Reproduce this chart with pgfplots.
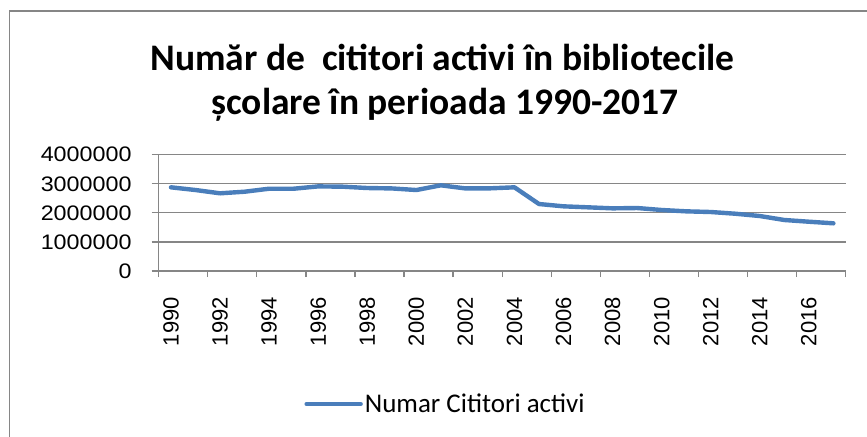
\documentclass[border=0pt]{standalone}
\usepackage{pgfplots}
\pgfplotsset{compat=1.18}
\usepackage{fontspec}
\setmainfont{Carlito}
\newfontfamily\ticksfont{Liberation Sans}
\newfontfamily\yticksfont[FakeStretch=1.11]{Liberation Sans}
\definecolor{excelblue}{HTML}{4A7EBB}
\definecolor{gridgray}{HTML}{868686}
\pgfplotstableread{
year value
1990 2878000
1991 2785000
1992 2672000
1993 2727000
1994 2830000
1995 2830000
1996 2910000
1997 2900000
1998 2854000
1999 2840000
2000 2785000
2001 2947000
2002 2840000
2003 2843000
2004 2878000
2005 2304000
2006 2224000
2007 2190000
2008 2155000
2009 2166000
2010 2098000
2011 2052000
2012 2029000
2013 1970000
2014 1891000
2015 1754000
2016 1695000
2017 1640000
}\datatable
\begin{document}
\begin{tikzpicture}
\useasboundingbox (0,0) rectangle (867bp,437bp);
\draw[gridgray, line width=1.5bp] (9.5bp,0) -- (9.5bp,426bp) -- (867bp,426bp);
\node[anchor=base, inner sep=0pt, font=\fontsize{37.5bp}{44bp}\selectfont\bfseries] at (442.5bp,366bp) {Număr de\ \ cititori activi în bibliotecile};
\node[anchor=base, inner sep=0pt, font=\fontsize{37.5bp}{44bp}\selectfont\bfseries] at (445bp,322bp) {școlare în perioada 1990-2017};
\begin{axis}[
  at={(158.7bp,166bp)}, anchor=south west,
  scale only axis, width=687bp, height=116.3bp,
  xmin=1989.5, xmax=2017.5, ymin=0, ymax=4000000,
  scaled y ticks=false,
  axis line style={gridgray, line width=1.3bp},
  axis x line*=bottom, axis y line*=left,
  ytick={0,1000000,2000000,3000000,4000000},
  yticklabels={0,1000000,2000000,3000000,4000000},
  ymajorgrids, major grid style={gridgray, line width=1.3bp},
  xtick={1990,1992,...,2016},
  xticklabels={1990,1992,1994,1996,1998,2000,2002,2004,2006,2008,2010,2012,2014,2016},
  major x tick style={draw=none},
  minor xtick={1989.5,1991.5,...,2017.5},
  minor tick style={gridgray, line width=1.3bp},
  minor tick length=6bp,
  major tick length=7bp,
  tick align=outside,
  ytick style={gridgray, line width=1.3bp},
  xticklabel style={rotate=90, anchor=east, inner sep=0pt, font=\fontsize{22bp}{26bp}\selectfont\ticksfont, xshift=-19bp},
  yticklabel style={anchor=east, inner sep=0pt, font=\fontsize{21bp}{25bp}\selectfont\yticksfont, xshift=-20bp},
  legend style={draw=none, at={(0.4175,-1.1436)}, anchor=center, font=\fontsize{27bp}{32bp}\selectfont, inner sep=0pt},
  legend image code/.code={\draw[#1, line width=4.4bp, line cap=round] (0bp,0bp) -- (54bp,0bp);},
  clip=false,
]
\addplot[excelblue, line width=4.4bp, line cap=round, line join=round, no markers] table[x=year, y=value] {\datatable};
\addlegendentry{Numar Cititori activi}
\end{axis}
\end{tikzpicture}
\end{document}
